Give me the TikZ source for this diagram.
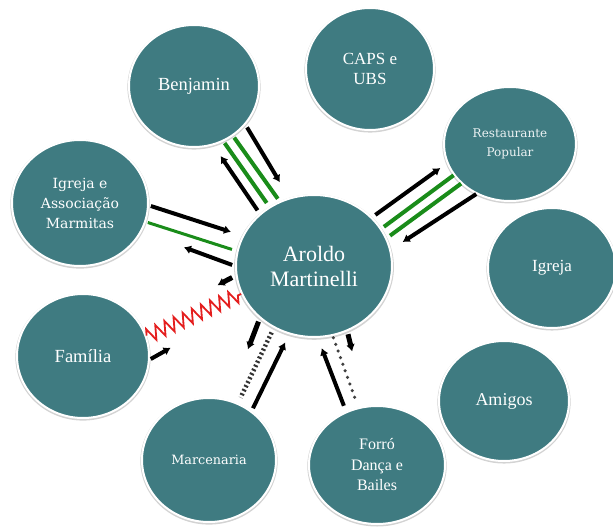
\documentclass[tikz,border=0pt]{standalone}
\usepackage{fontspec}
\setmainfont{DejaVu Serif}
\newfontfamily\tms{Liberation Serif}
\usetikzlibrary{shapes.geometric,arrows.meta,decorations.pathmorphing,shadows}
\definecolor{bubfill}{HTML}{3F7B81}
\definecolor{lgreen}{HTML}{1A8C1A}
\definecolor{lred}{HTML}{E41E1E}
\tikzset{
bubble/.style={ellipse, fill=bubfill, draw=white, line width=2pt, text=white,
  inner sep=0pt, align=center, font=\fontsize{14}{20}\selectfont,
  drop shadow={opacity=.35, shadow scale=1.025, shadow xshift=0pt, shadow yshift=-1pt}},
arr/.style={-{Latex[length=7pt,width=9pt]}, line width=4pt, black, shorten <=3pt, shorten >=12pt},
grn/.style={line width=4pt, lgreen, shorten <=2pt, shorten >=3pt},
zig/.style={lred, line width=1.8pt, decorate, decoration={zigzag, segment length=10pt, amplitude=7pt}},
dashd/.style={black!80, line width=4.5pt, dash pattern=on 2pt off 2.5pt},
dotd/.style={black!75, line width=3.5pt, line cap=round, dash pattern=on 0pt off 7pt},
}
\begin{document}
\begin{tikzpicture}[x=1pt,y=-1pt]
    \useasboundingbox (0,0) rectangle (613,529);
    \node[bubble, minimum width=156pt, minimum height=142pt, font=\tms\fontsize{22}{25}\selectfont] (am) at (314,266) {Aroldo\\Martinelli};
    \node[bubble, minimum width=130pt, minimum height=122pt, font=\tms\fontsize{18.5}{20}\selectfont] (ben) at (194,86) {Benjamin};
    \node[bubble, minimum width=128pt, minimum height=122pt, font=\tms\fontsize{17}{20}\selectfont] (caps) at (370,69) {CAPS e\\UBS};
    \node[bubble, minimum width=132pt, minimum height=114pt, font=\fontsize{12}{19}\selectfont, text=white!90!bubfill] (rest) at (510,144) {Restaurante\\Popular};
    \node[bubble, minimum width=128pt, minimum height=120pt, font=\tms\fontsize{17}{20}\selectfont] (igr) at (552,268) {Igreja};
    \node[bubble, minimum width=136pt, minimum height=126pt] (iam) at (80,203) {Igreja e\\Associação\\Marmitas};
    \node[bubble, minimum width=132pt, minimum height=124pt, font=\tms\fontsize{18.5}{20}\selectfont] (fam) at (83,356) {Família};
    \node[bubble, minimum width=134pt, minimum height=124pt, font=\fontsize{12.8}{20}\selectfont] (mar) at (209,460) {Marcenaria};
    \node[bubble, minimum width=136pt, minimum height=118pt, font=\tms\fontsize{16}{20.5}\selectfont] (forro) at (377,465) {Forró\\Dança e\\Bailes};
    \node[bubble, minimum width=130pt, minimum height=120pt, font=\tms\fontsize{18}{20}\selectfont] (ami) at (504,401) {Amigos};

    \draw[arr, shorten <=4pt, shorten >=13pt] (am.136) -- (ben.-72);
    \draw[grn, shorten >=4.5pt] (ben.-62) -- (am.127);
    \draw[grn] (ben.-52) -- (am.118);
    \draw[arr, shorten >=18pt] (ben.-37) -- (am.110);

    \draw[arr, shorten <=2pt] (iam.-2) -- (am.157);
    \draw[grn, line width=3pt, shorten >=5pt] (iam.-16) -- (am.169);
    \draw[arr, shorten >=45pt] (am.180) -- (iam.-25);

    \draw[arr, line width=5pt, shorten <=4pt, shorten >=86pt] (am.187) -- (fam.28);
    \draw[zig, shorten <=1pt] (fam.17) -- (am.201);
    \draw[arr, shorten <=1pt, shorten >=88pt] (fam.-3) -- (am.210);

    \draw[arr, line width=5pt, shorten <=3.5pt, shorten >=54pt] (am.224) -- (mar.72);
    \draw[dashd, shorten <=5pt, shorten >=6pt] (am.237) -- (mar.63);
    \draw[arr, shorten >=9pt] (mar.49) -- (am.250);

    \draw[arr, shorten <=6pt, shorten >=11pt] (forro.120) -- (am.273);
    \draw[dotd, shorten <=2pt, shorten >=8pt] (am.285) -- (forro.108);
    \draw[arr, line width=5pt, shorten >=56pt] (am.297) -- (forro.101);

    \draw[arr, shorten <=4pt, shorten >=8pt] (am.40) -- (rest.197);
    \draw[grn, shorten <=3pt, shorten >=0pt] (am.29) -- (rest.209);
    \draw[grn, shorten <=4pt, shorten >=0pt] (am.21) -- (rest.219);
    \draw[arr, shorten <=0pt, shorten >=14pt] (rest.236) -- (am.12);
\end{tikzpicture}
\end{document}
